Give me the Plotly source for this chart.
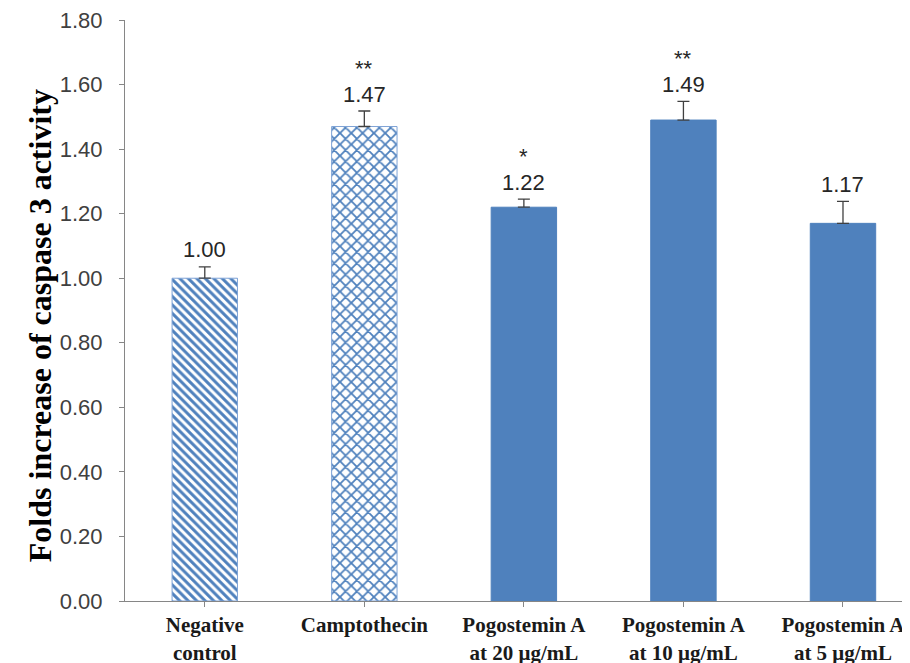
import plotly.graph_objects as go

categories = ["Negative<br>control", "Camptothecin", "Pogostemin A<br>at 20 μg/mL",
              "Pogostemin A<br>at 10 μg/mL", "Pogostemin A<br>at 5 μg/mL"]
values = [1.00, 1.47, 1.22, 1.49, 1.17]
errors = [0.035, 0.048, 0.025, 0.058, 0.068]
stars = ["", "**", "*", "**", ""]
value_labels = ["1.00", "1.47", "1.22", "1.49", "1.17"]
y_ticks = [0.0, 0.2, 0.4, 0.6, 0.8, 1.0, 1.2, 1.4, 1.6, 1.8]

BLUE = "#4F81BD"
x_idx = list(range(len(categories)))

fig = go.Figure()
fig.add_trace(go.Bar(
    x=x_idx, y=values, width=0.41,
    marker=dict(
        color=BLUE,
        line=dict(color=["#7FA3D6", "#7FA3D6", BLUE, BLUE, BLUE], width=1),
        pattern=dict(shape=["\\", "x", "", "", ""], bgcolor="white",
                     size=[6, 8, 6, 6, 6], solidity=[0.5, 0.4, 0.5, 0.5, 0.5],
                     fillmode="replace"),
    ),
    error_y=dict(type="data", symmetric=False, array=errors, arrayminus=[0]*5,
                 color="#404040", thickness=1.3, width=6),
    showlegend=False,
))

for i, (v, e, lab, s) in enumerate(zip(values, errors, value_labels, stars)):
    fig.add_annotation(x=i, y=v + e, text=lab, showarrow=False, yshift=17,
                       font=dict(family="Liberation Sans", size=22, color="#262626"))
    if s:
        fig.add_annotation(x=i, y=v + e, text=s, showarrow=False, yshift=43,
                           font=dict(family="Liberation Sans", size=22, color="#262626"))

# y-axis title as an annotation for exact placement
fig.add_annotation(xref="paper", yref="paper", x=0, y=0.473, xshift=-85,
                   text="<b>Folds increase of caspase 3 activity</b>", textangle=-90,
                   showarrow=False, xanchor="center", yanchor="middle",
                   font=dict(family="Liberation Serif", size=32, color="#000000"))

fig.update_layout(
    width=902, height=655,
    margin=dict(l=117, r=0, t=12, b=62),
    plot_bgcolor="white", paper_bgcolor="white",
)
fig.update_xaxes(
    range=[-0.5, 4.42], tickmode="array", tickvals=x_idx, ticktext=categories,
    showline=True, linecolor="#868686", linewidth=1, automargin=False,
    ticks="outside", ticklen=5, tickcolor="#868686", tickson="boundaries",
    tickfont=dict(family="Liberation Serif", size=21, color="#1a1a1a", weight="bold"),
    showgrid=False, zeroline=False, ticklabeloverflow="allow",
)
fig.update_yaxes(
    range=[0, 1.8], tickmode="array", tickvals=y_ticks,
    ticktext=[f"{t:.2f}" for t in y_ticks],
    showline=True, linecolor="#868686", linewidth=1, automargin=False,
    ticks="outside", ticklen=5, tickcolor="#868686", ticklabelstandoff=12,
    tickfont=dict(family="Liberation Sans", size=22, color="#404040"),
    showgrid=False, zeroline=False, ticklabeloverflow="allow",
)

fig.write_html("out.html")
